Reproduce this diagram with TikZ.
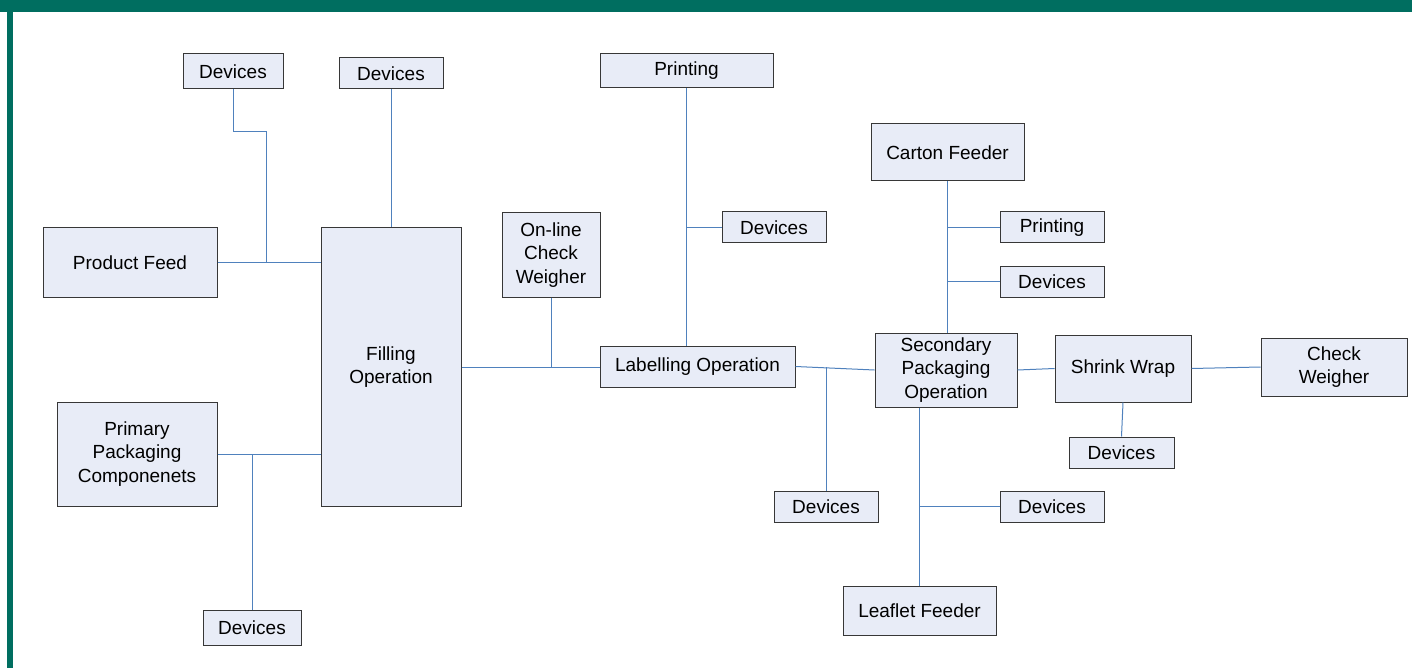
\documentclass[tikz,border=0pt]{standalone}
\usepackage{fontspec}
\setmainfont{Liberation Sans}
\usetikzlibrary{positioning}
\definecolor{framegreen}{RGB}{0,110,96}
\definecolor{boxfill}{RGB}{232,236,247}
\definecolor{boxline}{RGB}{55,55,55}
\definecolor{linkblue}{RGB}{79,129,189}

\begin{document}
\begin{tikzpicture}[
  x=1pt, y=-1pt,
  unit/.style={rectangle, draw=boxline, fill=boxfill, line width=1pt,
               inner sep=0pt, align=center,
               font=\fontsize{19}{23.5}\selectfont},
  link/.style={draw=linkblue, line width=1pt}
]
  \useasboundingbox (0,0) rectangle (1412,668);
  \fill[framegreen] (0,0) rectangle (1412,12.5);
  \fill[framegreen] (7,0) rectangle (12.5,668);

  % filling stage
  \node[unit, minimum width=100pt, minimum height=35pt] (devA) at (233,71.5) {Devices};
  \node[unit, minimum width=104pt, minimum height=31pt] (devB) at (391,73.5) {Devices};
  \node[unit, minimum width=174pt, minimum height=69pt] (feed) at (130,262.5) {Product Feed};
  \node[unit, minimum width=140pt, minimum height=278pt] (fill) at (391,367) {Filling\\Operation};
  \node[unit, minimum width=160pt, minimum height=104pt] (prim) at (137,454) {Primary\\Packaging\\Componenets};
  \node[unit, minimum width=98pt, minimum height=35pt] (devC) at (252,627.5) {Devices};

  % labelling stage
  \node[unit, minimum width=98pt, minimum height=84pt] (olcw) at (551,255) {On-line\\Check\\Weigher};
  \node[unit, minimum width=173pt, minimum height=34pt] (printA) at (686.5,71) {Printing};
  \node[unit, minimum width=104pt, minimum height=31pt] (devD) at (774,227.5) {Devices};
  \node[unit, minimum width=195pt, minimum height=41pt] (label) at (697.5,366.5) {Labelling Operation};
  \node[unit, minimum width=104pt, minimum height=31pt] (devE) at (826,506.5) {Devices};

  % secondary packaging stage
  \node[unit, minimum width=153pt, minimum height=57pt] (carton) at (947.5,152.5) {Carton Feeder};
  \node[unit, minimum width=104pt, minimum height=31pt] (printB) at (1052,227.5) {Printing};
  \node[unit, minimum width=104pt, minimum height=31pt] (devF) at (1052,281.5) {Devices};
  \node[unit, minimum width=142pt, minimum height=74pt] (sec) at (946,370) {Secondary\\Packaging\\Operation};
  \node[unit, minimum width=104pt, minimum height=31pt] (devG) at (1052,506.5) {Devices};
  \node[unit, minimum width=153pt, minimum height=49pt] (leaf) at (919.5,610.5) {Leaflet Feeder};
  \node[unit, minimum width=136pt, minimum height=67pt] (shrink) at (1123,368.5) {Shrink Wrap};
  \node[unit, minimum width=146pt, minimum height=58pt] (weigh) at (1334,367) {Check\\Weigher};
  \node[unit, minimum width=105pt, minimum height=31pt] (devH) at (1121.5,452.5) {Devices};

  \coordinate (devAbend) at (266,132);
  \coordinate (feedjoin) at (266,262.5);

  \draw[link] (feed.east) -- (feed.east -| fill.west);
  \draw[link] (devA.south) |- (devAbend) -- (feedjoin);
  \draw[link] (devB.south) -- (fill.north);
  \draw[link] (prim.east) -- (prim.east -| fill.west);
  \draw[link] (devC.north) -- (devC.north |- prim.east);

  \draw[link] (fill.east) -- (fill.east -| label.west);
  \draw[link] (olcw.south) -- (olcw.south |- fill.east);
  \draw[link] (printA.south) -- (printA.south |- label.north);
  \draw[link] (devD.west) -- (devD.west -| printA.south);
  \draw[link] (label.east) -- (sec.west);
  \draw[link] (devE.north) -- (devE.north |- label.east);

  \draw[link] (carton.south) -- (carton.south |- sec.north);
  \draw[link] (printB.west) -- (printB.west -| carton.south);
  \draw[link] (devF.west) -- (devF.west -| carton.south);
  \draw[link] (leaf.north |- sec.south) -- (leaf.north);
  \draw[link] (devG.west) -- (devG.west -| leaf.north);
  \draw[link] (sec.east) -- (shrink.west);
  \draw[link] (shrink.east) -- (weigh.west);
  \draw[link] (shrink.south) -- (devH.north);
\end{tikzpicture}
\end{document}
